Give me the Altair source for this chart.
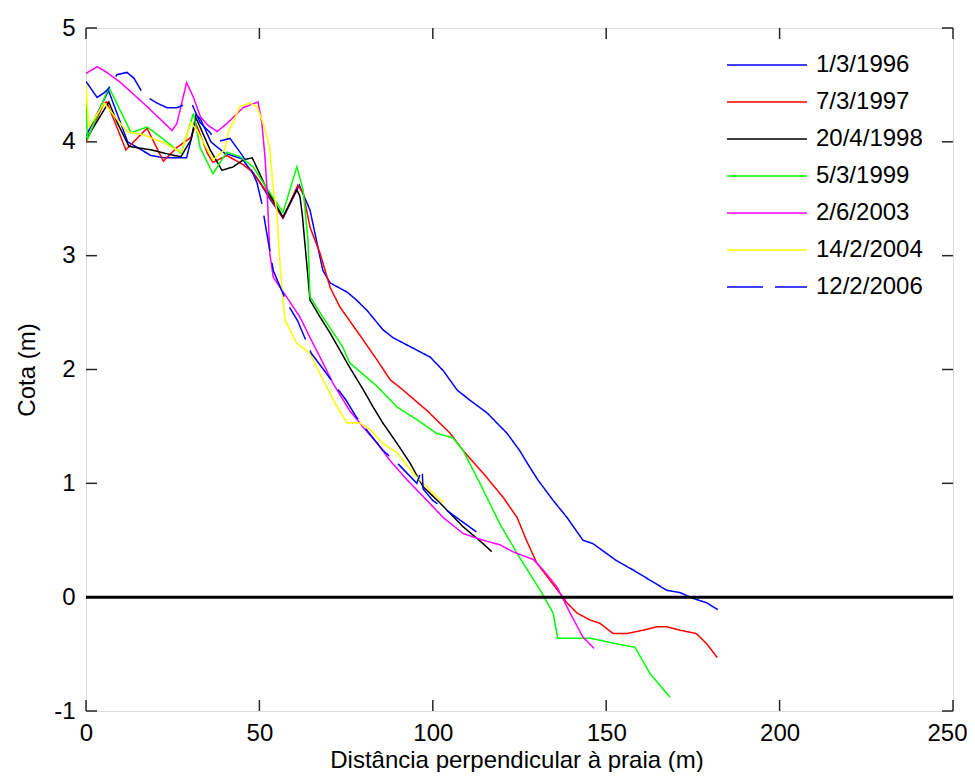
import altair as alt
import pandas as pd

names = ["1/3/1996", "7/3/1997", "20/4/1998", "5/3/1999", "2/6/2003", "14/2/2004", "12/2/2006"]
colors = ["#0000ff", "#ff0000", "#000000", "#00ff00", "#ff00ff", "#ffff00", "#0000ff"]
dashes = [[1, 0], [1, 0], [1, 0], [1, 0], [1, 0], [1, 0], [36, 12]]

x1996 = [0, 6.5, 12, 18.7, 22.5, 29, 30.3, 31.7, 33, 36, 40, 45, 50, 53, 56.8, 61.5, 64.6, 68.3, 70.4, 75.3, 78, 81, 85.6, 88.5, 95.4, 99.2, 103, 107, 110.7, 115.6, 121.4, 125, 128, 130.3, 134.7, 138.7, 143.3, 146.2, 153, 157.7, 162.6, 167.5, 171.3, 175, 179, 182.2]
y1996 = [4.05, 4.45, 4.0, 3.88, 3.86, 3.86, 4.02, 4.24, 4.2, 4.0, 3.9, 3.85, 3.65, 3.5, 3.33, 3.62, 3.4, 2.87, 2.76, 2.68, 2.61, 2.52, 2.35, 2.28, 2.17, 2.11, 1.99, 1.82, 1.73, 1.62, 1.44, 1.29, 1.14, 1.03, 0.85, 0.70, 0.50, 0.47, 0.32, 0.24, 0.15, 0.06, 0.04, -0.01, -0.05, -0.11]

x1997 = [0, 5.2, 6, 11.5, 17.6, 22.3, 26.2, 30.3, 31.7, 35, 36.6, 40.6, 45.3, 48.2, 53, 56.8, 61.1, 62.6, 64.6, 67.5, 70.4, 73.2, 79, 84, 87.7, 91.4, 98.3, 105, 108.7, 114.5, 120.2, 124.3, 127, 130, 133, 136, 138.7, 141.6, 145.3, 148.2, 152, 156, 160.6, 164.6, 167.5, 171.3, 176, 179, 182]
y1997 = [4.0, 4.34, 4.35, 3.93, 4.12, 3.83, 3.95, 4.04, 4.16, 3.9, 3.82, 3.88, 3.80, 3.73, 3.52, 3.33, 3.62, 3.55, 3.25, 3.02, 2.72, 2.55, 2.3, 2.08, 1.91, 1.82, 1.64, 1.44, 1.29, 1.09, 0.88, 0.70, 0.50, 0.30, 0.18, 0.06, -0.05, -0.14, -0.2, -0.23, -0.32, -0.32, -0.29, -0.26, -0.26, -0.29, -0.32, -0.41, -0.53]

x1998 = [0, 6.6, 9, 12.4, 18.7, 25.4, 27.4, 30.3, 31.7, 32.9, 35.8, 39.2, 42.4, 45.3, 47.9, 48.7, 52.2, 56.8, 60.8, 61.7, 62.4, 64.6, 67.5, 70.4, 76, 80, 82.8, 85.6, 89.7, 93.4, 97.2, 102, 108.7, 114.5, 117]
y1998 = [4.02, 4.35, 4.17, 3.96, 3.93, 3.88, 3.87, 4.02, 4.21, 4.13, 3.93, 3.75, 3.78, 3.84, 3.86, 3.81, 3.58, 3.34, 3.58, 3.52, 3.35, 2.61, 2.46, 2.32, 2.02, 1.82, 1.67, 1.53, 1.35, 1.18, 0.97, 0.83, 0.62, 0.47, 0.40]

x1999 = [0, 0.4, 6.6, 13, 17.6, 21.6, 27.4, 31, 32.9, 36.6, 40.6, 44.4, 48.2, 52, 56.8, 60.8, 62.6, 64, 64.6, 68.3, 74, 76, 84, 89.7, 95.4, 101, 105.8, 108.7, 113.6, 119.4, 125, 131, 134.7, 136, 145.3, 153, 158.3, 162.6, 168.4]
y1999 = [4.35, 4.02, 4.48, 4.08, 4.13, 4.04, 3.9, 4.25, 3.95, 3.72, 3.91, 3.87, 3.78, 3.6, 3.38, 3.78, 3.58, 3.14, 2.64, 2.46, 2.2, 2.06, 1.85, 1.67, 1.56, 1.44, 1.40, 1.29, 1.0, 0.64, 0.35, 0.06, -0.14, -0.36, -0.36, -0.41, -0.44, -0.67, -0.88]

x2003 = [0, 3.2, 6, 10, 17.6, 24.8, 26.2, 29, 31, 33, 35, 37.8, 40.6, 45.3, 48.7, 49.6, 50.7, 51.6, 52.2, 53, 54, 58, 61.7, 64.6, 68.3, 71.2, 76, 80, 84, 87.7, 92.6, 98.3, 103, 108.7, 114.5, 119.4, 123, 129, 131.8, 135.8, 139.6, 143.3, 146.5]
y2003 = [4.60, 4.66, 4.61, 4.52, 4.31, 4.10, 4.16, 4.52, 4.39, 4.22, 4.15, 4.09, 4.16, 4.30, 4.34, 4.35, 4.17, 3.87, 3.58, 3.02, 2.81, 2.63, 2.46, 2.28, 2.06, 1.88, 1.64, 1.49, 1.35, 1.20, 1.03, 0.85, 0.70, 0.56, 0.50, 0.46, 0.40, 0.33, 0.24, 0.09, -0.14, -0.35, -0.45]

x2004 = [0, 0.3, 0.9, 5.2, 11.8, 16.7, 22.5, 27.4, 30.3, 32, 36.6, 40, 41, 44.4, 47.3, 49.3, 51, 53, 54, 55, 56, 56.8, 57.4, 60.8, 64.6, 68.3, 72.4, 75.3, 79, 82, 85.6, 89.7, 94.3, 99.2, 103]
y2004 = [4.52, 4.34, 4.13, 4.34, 4.09, 4.06, 3.99, 3.91, 4.17, 4.10, 3.84, 3.93, 4.08, 4.31, 4.34, 4.31, 4.17, 3.95, 3.58, 3.40, 2.90, 2.61, 2.43, 2.23, 2.14, 1.91, 1.67, 1.53, 1.53, 1.47, 1.35, 1.27, 1.09, 0.94, 0.83]

x2006 = [0, 3.2, 5.2, 6.6, 8.9, 11.8, 13.8, 16.7, 20.5, 23.4, 26.2, 30.3, 32.9, 35.8, 37.8, 41.5, 44.4, 47.3, 49.3, 50.7, 52, 54, 58, 61, 65, 68, 75, 78, 85.6, 89.7, 95.4, 96.9, 97.2, 100, 105, 113.6]
y2006 = [4.53, 4.39, 4.43, 4.47, 4.59, 4.61, 4.56, 4.41, 4.34, 4.30, 4.30, 4.35, 4.17, 4.08, 4.00, 4.03, 3.91, 3.78, 3.64, 3.46, 3.22, 2.87, 2.58, 2.43, 2.14, 2.02, 1.73, 1.58, 1.29, 1.18, 1.00, 1.13, 0.95, 0.85, 0.74, 0.55]

x_ticks = [0, 50, 100, 150, 200, 250]
y_ticks = [-1, 0, 1, 2, 3, 4, 5]
zero_level = [0]

series = [(names[0], x1996, y1996), (names[1], x1997, y1997), (names[2], x1998, y1998),
          (names[3], x1999, y1999), (names[4], x2003, y2003), (names[5], x2004, y2004),
          (names[6], x2006, y2006)]

W, H = 867, 683
FONT = "Liberation Sans"
TICK = 11
FRAME = "#262626"

xscale = alt.Scale(domain=[0, 250], nice=False, zero=False)
yscale = alt.Scale(domain=[-1, 5], nice=False, zero=False)

leg = alt.Legend(title=None, orient="none", legendX=669, legendY=25,
                 symbolType="M-4,0H4", symbolSize=400, symbolStrokeWidth=1.5,
                 labelOffset=37, labelFont=FONT, labelFontSize=24, labelColor="#000000",
                 rowPadding=13, padding=0, labelLimit=300)

color = alt.Color("serie:N", scale=alt.Scale(domain=names, range=colors), legend=leg)
dash = alt.StrokeDash("serie:N", scale=alt.Scale(domain=names, range=dashes), legend=leg)

xaxis = alt.Axis(values=x_ticks, tickSize=0, domain=False, grid=False, labelFont=FONT,
                 labelFontSize=24, labelColor="#000000", labelPadding=10, labelFlush=False,
                 labelExpr="'' + datum.value",
                 labelOffset={"condition": {"test": "datum.value === 250", "value": -6}, "value": 0},
                 title="Distância perpendicular à praia (m)", titleFont=FONT, titleFontSize=24,
                 titleFontWeight="normal", titleColor="#000000",
                 titleBaseline="alphabetic", titleY=56, titleX=W / 2 - 3)
yaxis = alt.Axis(values=y_ticks, tickSize=0, domain=False, grid=False, labelFont=FONT,
                 labelFontSize=24, labelColor="#000000", labelPadding=11, labelFlush=False,
                 labelExpr="'' + datum.value",
                 title="Cota (m)", titleFont=FONT, titleFontSize=24,
                 titleFontWeight="normal", titleColor="#000000",
                 titleBaseline="middle", titleX=-59, titleY=H / 2)

layers = []
for name, xs, ys in series:
    d = pd.DataFrame({"serie": name, "x": xs, "y": ys, "i": list(range(len(xs)))})
    layers.append(
        alt.Chart(d).mark_line(strokeWidth=1.5, clip=True).encode(
            x=alt.X("x:Q", scale=xscale, axis=xaxis),
            y=alt.Y("y:Q", scale=yscale, axis=yaxis),
            color=color, strokeDash=dash, order="i:Q")
    )

zero = alt.Chart(pd.DataFrame({"y": zero_level})).mark_rule(color="#000000", strokeWidth=3).encode(
    y=alt.Y("y:Q", scale=yscale))

xt = pd.DataFrame({"t": x_ticks})
yt = pd.DataFrame({"t": y_ticks})
tick_bottom = alt.Chart(xt).mark_rule(color=FRAME, strokeWidth=1.5).encode(
    x=alt.X("t:Q", scale=xscale), y=alt.value(H - TICK), y2=alt.value(H))
tick_top = alt.Chart(xt).mark_rule(color=FRAME, strokeWidth=1.5).encode(
    x=alt.X("t:Q", scale=xscale), y=alt.value(0), y2=alt.value(TICK))
tick_left = alt.Chart(yt).mark_rule(color=FRAME, strokeWidth=1.5).encode(
    y=alt.Y("t:Q", scale=yscale), x=alt.value(0), x2=alt.value(TICK))
tick_right = alt.Chart(yt).mark_rule(color=FRAME, strokeWidth=1.5).encode(
    y=alt.Y("t:Q", scale=yscale), x=alt.value(W - TICK), x2=alt.value(W))

chart = alt.layer(tick_bottom, tick_top, tick_left, tick_right, *layers, zero).properties(
    width=W, height=H,
    padding={"left": 78, "top": 20, "right": 14, "bottom": 61},
    autosize=alt.AutoSizeParams(type="none"),
).configure_view(stroke=FRAME, strokeWidth=1.5).configure(background="white")

chart.save("out.html", embed_options={"renderer": "svg", "actions": False})
